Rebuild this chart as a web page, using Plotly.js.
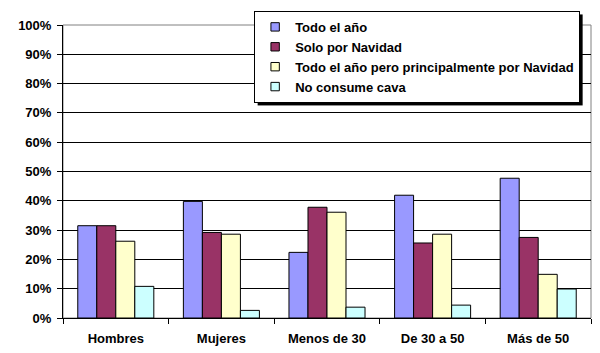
<!DOCTYPE html>
<html>
<head>
<meta charset="utf-8">
<script src="https://cdn.plot.ly/plotly-3.0.1.min.js"></script>
<style>body{margin:0;background:#fff}#chart{width:600px;height:353px}</style>
</head>
<body>
<div id="chart"></div>
<script>
var categories = ["Hombres", "Mujeres", "Menos de 30", "De 30 a 50", "Más de 50"];
var seriesNames = ["Todo el año", "Solo por Navidad", "Todo el año pero principalmente por Navidad", "No consume cava"];
var todoElAno = [0.315, 0.398, 0.224, 0.419, 0.477];
var soloNavidad = [0.315, 0.292, 0.378, 0.256, 0.275];
var principalmenteNavidad = [0.262, 0.286, 0.361, 0.286, 0.149];
var noConsume = [0.108, 0.026, 0.037, 0.044, 0.099];
var colors = ["#9999FF", "#993366", "#FFFFCC", "#CCFFFF"];
var yTickVals = [0, 0.1, 0.2, 0.3, 0.4, 0.5, 0.6, 0.7, 0.8, 0.9, 1.0];
var yTickText = ["0%", "10%", "20%", "30%", "40%", "50%", "60%", "70%", "80%", "90%", "100%"];

var allSeries = [todoElAno, soloNavidad, principalmenteNavidad, noConsume];
var traces = allSeries.map(function (vals, i) {
  return {
    type: "bar",
    name: seriesNames[i],
    x: categories,
    y: vals,
    marker: {color: colors[i], line: {color: "#000", width: 1}},
    hoverinfo: "skip"
  };
});

var font = {family: "Liberation Sans, Arial, sans-serif", size: 13, color: "#000", weight: "bold"};

var layout = {
  width: 600, height: 353,
  margin: {l: 63, r: 9, t: 25, b: 35},
  paper_bgcolor: "#fff", plot_bgcolor: "#fff",
  font: font,
  barmode: "group",
  bargap: 0.28,
  bargroupgap: 0,
  showlegend: true,
  legend: {
    x: 0.362, y: 1.048, xanchor: "left", yanchor: "top",
    bgcolor: "#fff", bordercolor: "#000", borderwidth: 1,
    font: font,
    traceorder: "normal", itemclick: false
  },
  xaxis: {
    type: "category",
    showline: true, linecolor: "#000", linewidth: 1,
    ticks: "outside", tickson: "boundaries", ticklen: 5, tickcolor: "#000",
    ticklabelstandoff: 8,
    showgrid: false, zeroline: false, fixedrange: true,
    tickfont: font
  },
  yaxis: {
    range: [0, 1],
    tickvals: yTickVals, ticktext: yTickText,
    showline: true, linecolor: "#000", linewidth: 1,
    ticks: "outside", ticklen: 5, tickcolor: "#000",
    ticklabelstandoff: 3,
    showgrid: true, gridcolor: "#000", gridwidth: 1,
    zeroline: false, fixedrange: true,
    tickfont: font
  },
  shapes: [
    {type: "rect", xref: "paper", yref: "paper", x0: 0, x1: 1, y0: 0, y1: 1,
     line: {color: "#808080", width: 1}, layer: "below"}
  ]
};

Plotly.newPlot("chart", traces, layout, {staticPlot: true, displayModeBar: false}).then(function () {
  var NS = "http://www.w3.org/2000/svg";
  var leg = document.querySelector("#chart g.legend");
  if (leg) {
    var bg = leg.querySelector("rect.bg");
    if (bg) {
      var sh = document.createElementNS(NS, "rect");
      sh.setAttribute("x", (parseFloat(bg.getAttribute("x")) || 0) + 3);
      sh.setAttribute("y", (parseFloat(bg.getAttribute("y")) || 0) + 3);
      sh.setAttribute("width", bg.getAttribute("width"));
      sh.setAttribute("height", bg.getAttribute("height"));
      sh.setAttribute("style", "fill:#000");
      bg.parentNode.insertBefore(sh, bg);
    }
    leg.querySelectorAll(".legendpoints path").forEach(function (p) {
      var t = p.getAttribute("transform") || "";
      p.setAttribute("transform", t + " scale(0.7)");
      p.style.strokeWidth = "1.4px";
    });
  }
});
</script>
</body>
</html>
